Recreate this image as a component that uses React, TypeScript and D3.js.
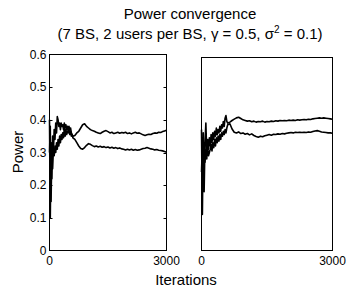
import React, { useEffect, useRef } from 'react'
import * as d3 from 'd3'

// iterations: dense sampling for the transient, coarser afterwards
const iterEarly = d3.range(0, 600, 20)
const iterLate = d3.range(600, 3001, 50)
const iterations = iterEarly.concat(iterLate)

// left panel
const leftUpper = [
  0.40, 0.10, 0.33, 0.22, 0.35, 0.30, 0.37, 0.34, 0.39, 0.36,
  0.41, 0.40, 0.38, 0.39, 0.37, 0.39, 0.38, 0.385, 0.37, 0.39,
  0.375, 0.385, 0.37, 0.38, 0.365, 0.38, 0.37, 0.375, 0.36, 0.355,
  0.35, 0.352, 0.36, 0.365, 0.375, 0.385, 0.388, 0.38, 0.375, 0.37,
  0.367, 0.365, 0.362, 0.36, 0.358, 0.362, 0.365, 0.367, 0.364, 0.36,
  0.362, 0.358, 0.36, 0.362, 0.359, 0.361, 0.36, 0.362, 0.358, 0.36,
  0.357, 0.36, 0.362, 0.359, 0.36, 0.357, 0.354, 0.352, 0.354, 0.356,
  0.355, 0.358, 0.36, 0.359, 0.362, 0.361, 0.364, 0.366, 0.368,
]
const leftLower = [
  0.30, 0.38, 0.15, 0.30, 0.25, 0.31, 0.29, 0.32, 0.30, 0.33,
  0.31, 0.34, 0.32, 0.35, 0.33, 0.355, 0.34, 0.36, 0.345, 0.375,
  0.35, 0.37, 0.355, 0.365, 0.36, 0.37, 0.355, 0.365, 0.35, 0.355,
  0.345, 0.34, 0.33, 0.32, 0.312, 0.31, 0.315, 0.322, 0.327, 0.325,
  0.321, 0.318, 0.32, 0.317, 0.319, 0.316, 0.318, 0.315, 0.317, 0.314,
  0.316, 0.313, 0.315, 0.312, 0.314, 0.311, 0.31, 0.308, 0.31, 0.308,
  0.31, 0.307, 0.309, 0.307, 0.308, 0.31, 0.312, 0.313, 0.315, 0.313,
  0.311, 0.31, 0.308, 0.309, 0.307, 0.306, 0.305, 0.303, 0.301,
]

// right panel
const rightUpper = [
  0.37, 0.11, 0.36, 0.18, 0.33, 0.39, 0.30, 0.34, 0.31, 0.345,
  0.32, 0.355, 0.33, 0.36, 0.34, 0.365, 0.35, 0.375, 0.355, 0.37,
  0.36, 0.38, 0.365, 0.385, 0.375, 0.395, 0.38, 0.405, 0.413, 0.395,
  0.39, 0.393, 0.398, 0.402, 0.406, 0.408, 0.404, 0.40, 0.398, 0.396,
  0.397, 0.394, 0.396, 0.393, 0.395, 0.394, 0.396, 0.393, 0.395, 0.394,
  0.396, 0.395, 0.397, 0.396, 0.398, 0.397, 0.398, 0.397, 0.399, 0.398,
  0.399, 0.398, 0.40, 0.399, 0.40, 0.401, 0.40, 0.402, 0.401, 0.403,
  0.404, 0.405, 0.406, 0.405, 0.406, 0.405, 0.404, 0.403, 0.402,
]
const rightLower = [
  0.24, 0.32, 0.25, 0.30, 0.27, 0.31, 0.28, 0.32, 0.29, 0.30,
  0.31, 0.325, 0.305, 0.33, 0.315, 0.34, 0.32, 0.345, 0.33, 0.35,
  0.335, 0.355, 0.34, 0.36, 0.35, 0.365, 0.355, 0.37, 0.36, 0.375,
  0.385, 0.388, 0.372, 0.362, 0.36, 0.363, 0.358, 0.36, 0.356, 0.358,
  0.354, 0.357, 0.352, 0.349, 0.347, 0.35, 0.348, 0.351, 0.353, 0.355,
  0.353, 0.356, 0.355, 0.357, 0.356, 0.358, 0.357, 0.359, 0.36, 0.361,
  0.36, 0.362, 0.361, 0.362, 0.361, 0.362, 0.361, 0.363, 0.362, 0.364,
  0.366, 0.367, 0.365, 0.363, 0.362, 0.361, 0.36, 0.36, 0.359,
]

const yTicks = [0, 0.1, 0.2, 0.3, 0.4, 0.5, 0.6]
const yTickLabels = ['0', '0.1', '0.2', '0.3', '0.4', '0.5', '0.6']
const xTicks = [0, 3000]
const xTickLabels = ['0', '3000']

const font = '"Liberation Sans", Arial, Helvetica, sans-serif'

export default function App() {
  const ref = useRef<SVGSVGElement>(null)

  useEffect(() => {
    const svg = d3.select(ref.current)
    svg.selectAll('*').remove()

    const yScale = d3.scaleLinear().domain([0, 0.6]).range([250.5, 54.5])

    const panels = [
      { left: 49.5, right: 166.5, top: 54.5, series: [leftUpper, leftLower], yLabels: true },
      { left: 201.5, right: 332.5, top: 57.5, series: [rightUpper, rightLower], yLabels: false },
    ]

    panels.forEach(p => {
      const xScale = d3.scaleLinear().domain([0, 3000]).range([p.left, p.right])
      const g = svg.append('g')

      const line = d3.line<number>()
        .x((d, i) => xScale(iterations[i]))
        .y(d => yScale(d))

      p.series.forEach(s => {
        g.append('path')
          .datum(s)
          .attr('d', line)
          .attr('fill', 'none')
          .attr('stroke', '#000')
          .attr('stroke-width', 1.6)
          .attr('stroke-linejoin', 'round')
      })

      g.append('rect')
        .attr('x', p.left)
        .attr('y', p.top)
        .attr('width', p.right - p.left)
        .attr('height', 250.5 - p.top)
        .attr('fill', 'none')
        .attr('stroke', '#000')
        .attr('stroke-width', 1)

      if (p.yLabels) {
        // small inside ticks on both sides
        g.selectAll('.tl')
          .data(yTicks.slice(1, -1))
          .enter()
          .append('line')
            .attr('x1', p.left).attr('x2', p.left + 3)
            .attr('y1', d => Math.round(yScale(d)) + 0.5)
            .attr('y2', d => Math.round(yScale(d)) + 0.5)
            .attr('stroke', '#000')
        g.selectAll('.tr')
          .data(yTicks.slice(1, -1))
          .enter()
          .append('line')
            .attr('x1', p.right).attr('x2', p.right - 3)
            .attr('y1', d => Math.round(yScale(d)) + 0.5)
            .attr('y2', d => Math.round(yScale(d)) + 0.5)
            .attr('stroke', '#000')

        g.selectAll('.yl')
          .data(yTicks)
          .enter()
          .append('text')
            .attr('x', p.left - 3)
            .attr('y', d => yScale(d) + 4)
            .attr('text-anchor', 'end')
            .attr('font-family', font)
            .attr('font-size', 12)
            .text((d, i) => yTickLabels[i])
      }

      g.selectAll('.xl')
        .data(xTicks)
        .enter()
        .append('text')
          .attr('x', d => xScale(d))
          .attr('y', 265)
          .attr('text-anchor', 'middle')
          .attr('font-family', font)
          .attr('font-size', 12)
          .text((d, i) => xTickLabels[i])
    })

    svg.append('text')
      .attr('x', 190)
      .attr('y', 19)
      .attr('text-anchor', 'middle')
      .attr('font-family', font)
      .attr('font-size', 15)
      .text('Power convergence')

    const sub = svg.append('text')
      .attr('x', 190)
      .attr('y', 39)
      .attr('text-anchor', 'middle')
      .attr('font-family', font)
      .attr('font-size', 15)
    sub.append('tspan').text('(7 BS, 2 users per BS, γ = 0.5, σ')
    sub.append('tspan').attr('dy', -6).attr('font-size', 10).text('2')
    sub.append('tspan').attr('dy', 6).text(' = 0.1)')

    svg.append('text')
      .attr('x', 186)
      .attr('y', 285)
      .attr('text-anchor', 'middle')
      .attr('font-family', font)
      .attr('font-size', 15)
      .text('Iterations')

    svg.append('text')
      .attr('transform', 'translate(23,152) rotate(-90)')
      .attr('text-anchor', 'middle')
      .attr('font-family', font)
      .attr('font-size', 15)
      .text('Power')
  }, [])

  return (
    <svg
      ref={ref}
      width={347}
      height={290}
      style={{ position: 'absolute', left: 0, top: 0, background: '#fff' }}
    />
  )
}
